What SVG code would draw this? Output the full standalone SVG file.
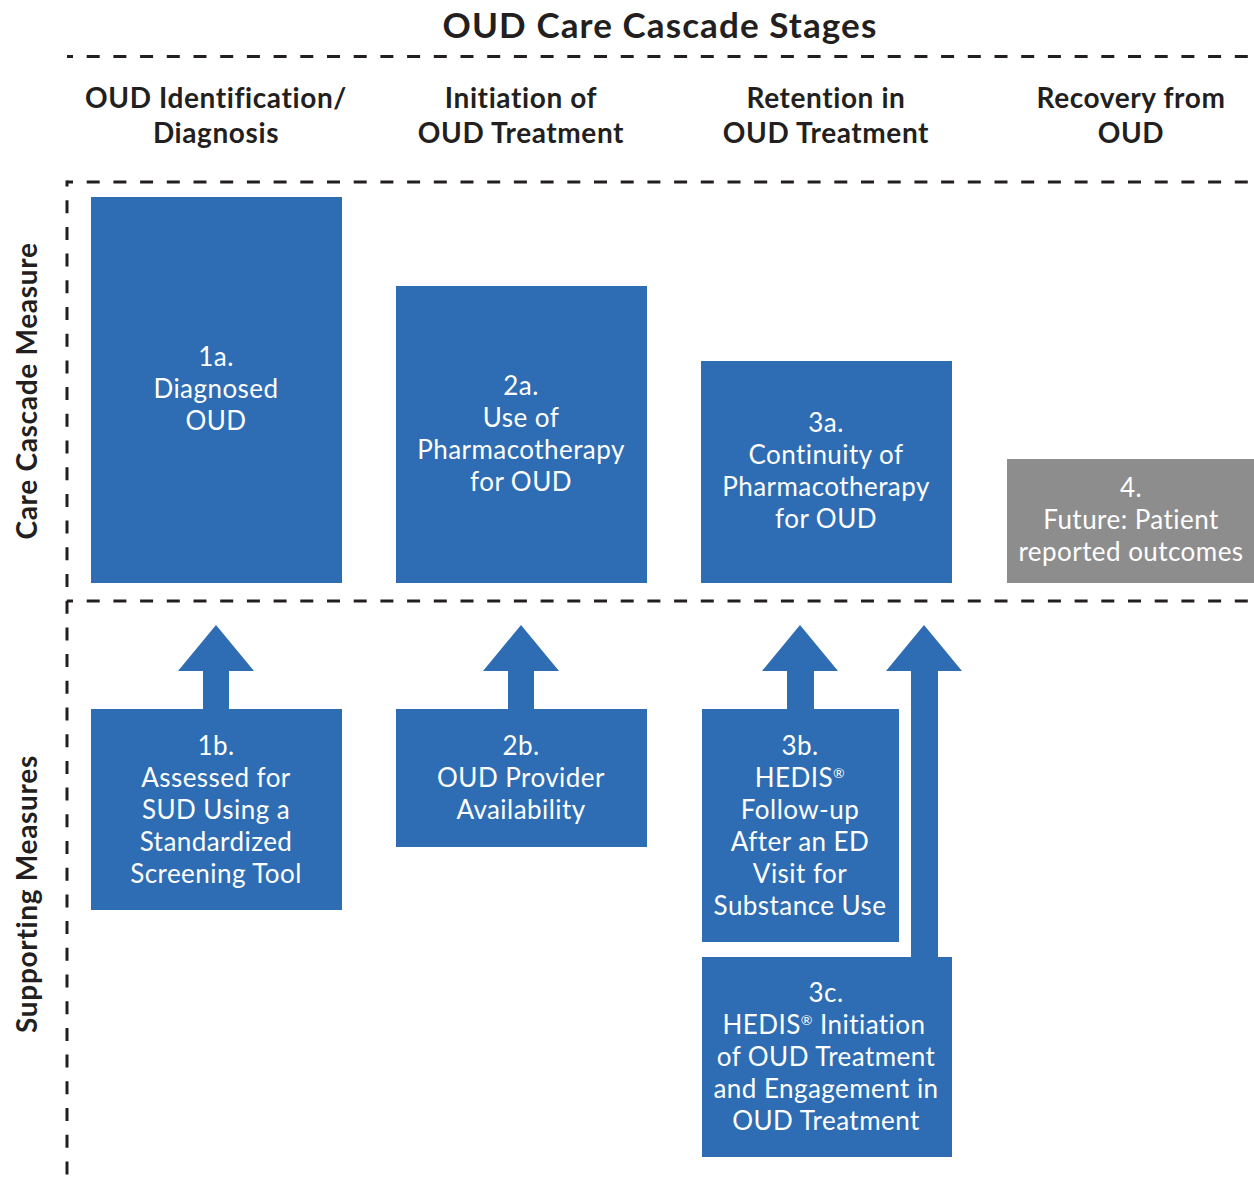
<svg xmlns="http://www.w3.org/2000/svg" width="1254" height="1184" viewBox="0 0 1254 1184">
<style>
.t{font-family:Lato,"Liberation Sans",sans-serif;fill:#231F20}
.title{font-size:35px;font-weight:bold;letter-spacing:1.1px}
.hd{font-size:28px;font-weight:bold;letter-spacing:0.6px}
.side{font-size:28px;font-weight:bold;letter-spacing:0.7px}
.bx{fill:#2E6DB4}
.gr{fill:#8E8D8D}
.bt{font-family:Lato,"Liberation Sans",sans-serif;font-size:26px;letter-spacing:0.45px;fill:#FFFFFF;text-anchor:middle}
.dash{stroke:#231F20;stroke-width:3;fill:none;stroke-dasharray:13 13.7}
.arr{fill:#2E6DB4}
</style>
<rect width="1254" height="1184" fill="#FFFFFF"/>
<text class="t title" x="660" y="38" text-anchor="middle">OUD Care Cascade Stages</text>
<g id="grid">
<line class="dash" x1="67" y1="56.5" x2="1254" y2="56.5" stroke-dashoffset="7"/>
<line class="dash" x1="67" y1="182" x2="1254" y2="182" stroke-dashoffset="7"/>
<line class="dash" x1="67" y1="601" x2="1254" y2="601" stroke-dashoffset="7"/>
<line class="dash" x1="67" y1="180.5" x2="67" y2="1184" stroke-dashoffset="7"/>
</g>
<g id="headers" class="t hd" text-anchor="middle">
<text x="216" y="108">OUD Identification/</text>
<text x="216" y="143">Diagnosis</text>
<text x="521" y="108">Initiation of</text>
<text x="521" y="143">OUD Treatment</text>
<text x="826" y="108">Retention in</text>
<text x="826" y="143">OUD Treatment</text>
<text x="1131" y="108">Recovery from</text>
<text x="1131" y="143">OUD</text>
</g>
<text class="t side" transform="translate(37,391) rotate(-90)" text-anchor="middle">Care Cascade Measure</text>
<text class="t side" transform="translate(37,894) rotate(-90)" text-anchor="middle">Supporting Measures</text>
<g id="connectors">
<polygon class="arr" points="203,709 203,671 178,671 216,625 254,671 229,671 229,709"/>
<polygon class="arr" points="508,709 508,671 483,671 521,625 559,671 534,671 534,709"/>
<polygon class="arr" points="787,709 787,671 762,671 800,625 838,671 814,671 814,709"/>
<polygon class="arr" points="911,957 911,671 886,671 924,625 962,671 938,671 938,957"/>
</g>
<g id="n1a"><rect class="bx" x="91" y="197" width="251" height="386"/>
<text class="bt"><tspan x="216" y="366">1a.</tspan><tspan x="216" y="398">Diagnosed</tspan><tspan x="216" y="430">OUD</tspan></text></g>
<g id="n2a"><rect class="bx" x="396" y="286" width="251" height="297"/>
<text class="bt"><tspan x="521" y="395">2a.</tspan><tspan x="521" y="427">Use of</tspan><tspan x="521" y="459">Pharmacotherapy</tspan><tspan x="521" y="491">for OUD</tspan></text></g>
<g id="n3a"><rect class="bx" x="701" y="361" width="251" height="222"/>
<text class="bt"><tspan x="826" y="432">3a.</tspan><tspan x="826" y="464">Continuity of</tspan><tspan x="826" y="496">Pharmacotherapy</tspan><tspan x="826" y="528">for OUD</tspan></text></g>
<g id="n4"><rect class="gr" x="1007" y="459" width="247" height="124"/>
<text class="bt"><tspan x="1131" y="497">4.</tspan><tspan x="1131" y="529">Future: Patient</tspan><tspan x="1131" y="561">reported outcomes</tspan></text></g>
<g id="n1b"><rect class="bx" x="91" y="709" width="251" height="201"/>
<text class="bt"><tspan x="216" y="755">1b.</tspan><tspan x="216" y="787">Assessed for</tspan><tspan x="216" y="819">SUD Using a</tspan><tspan x="216" y="851">Standardized</tspan><tspan x="216" y="883">Screening Tool</tspan></text></g>
<g id="n2b"><rect class="bx" x="396" y="709" width="251" height="138"/>
<text class="bt"><tspan x="521" y="755">2b.</tspan><tspan x="521" y="787">OUD Provider</tspan><tspan x="521" y="819">Availability</tspan></text></g>
<g id="n3b"><rect class="bx" x="702" y="709" width="197" height="233"/>
<text class="bt"><tspan x="800" y="755">3b.</tspan><tspan x="800" y="787">HEDIS<tspan font-size="14" dy="-9">®</tspan></tspan><tspan x="800" y="819">Follow-up</tspan><tspan x="800" y="851">After an ED</tspan><tspan x="800" y="883">Visit for</tspan><tspan x="800" y="915">Substance Use</tspan></text></g>
<g id="n3c"><rect class="bx" x="702" y="957" width="250" height="200"/>
<text class="bt"><tspan x="826" y="1002">3c.</tspan><tspan x="824" y="1034">HEDIS<tspan font-size="14" dy="-9">®</tspan><tspan dy="9"> Initiation</tspan></tspan><tspan x="826" y="1066">of OUD Treatment</tspan><tspan x="826" y="1098">and Engagement in</tspan><tspan x="826" y="1130">OUD Treatment</tspan></text></g>
</svg>
